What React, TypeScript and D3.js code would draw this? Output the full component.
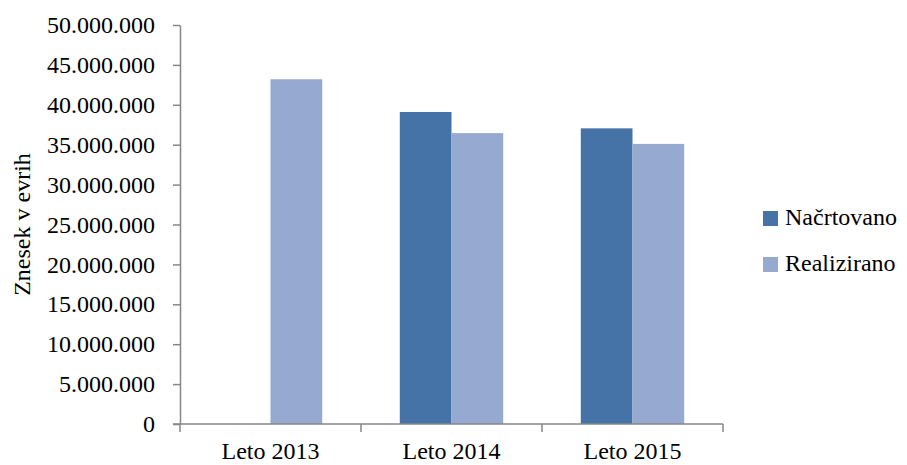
import React, { useEffect, useRef } from 'react';
import * as d3 from 'd3';

const CATEGORIES = ['Leto 2013', 'Leto 2014', 'Leto 2015'];
const SERIES = ['Načrtovano', 'Realizirano'];
const PLANNED = [null, 39100000, 37050000];
const REALISED = [43200000, 36450000, 35100000];
const Y_TICKS = [0, 5000000, 10000000, 15000000, 20000000, 25000000, 30000000, 35000000, 40000000, 45000000, 50000000];
const COLORS = ['#4573A7', '#95A9D1'];

const WIDTH = 907;
const HEIGHT = 465;
const MARGIN = { top: 25, left: 180, right: 184, bottom: 41 };
const FONT = '"Liberation Serif", "Times New Roman", serif';

const App = () => {
  const svgRef = useRef<SVGSVGElement | null>(null);

  useEffect(() => {
    const svg = d3.select(svgRef.current);
    svg.selectAll('*').remove();

    const innerW = WIDTH - MARGIN.left - MARGIN.right;
    const innerH = HEIGHT - MARGIN.top - MARGIN.bottom;

    const x = d3.scaleBand().domain(CATEGORIES).range([0, innerW]).paddingInner(0).paddingOuter(0);
    const xInner = d3.scaleBand().domain(SERIES).range([0, x.bandwidth()]).paddingOuter(0.75).paddingInner(0);
    const y = d3.scaleLinear().domain([0, 50000000]).range([innerH, 0]);

    const g = svg.append('g').attr('transform', `translate(${MARGIN.left},${MARGIN.top})`);

    // y axis
    const yAxis = g.append('g').call(
      d3.axisLeft(y).tickValues(Y_TICKS).tickSize(7).tickSizeOuter(0).tickPadding(18)
        .tickFormat((d) => d3.format(',')(d as number).replace(/,/g, '.'))
    );
    yAxis.select('.domain').attr('stroke', '#868686').attr('stroke-width', 1.5);
    yAxis.selectAll('.tick line').attr('stroke', '#868686').attr('stroke-width', 1.5);
    yAxis.selectAll('.tick text').attr('font-family', FONT).attr('font-size', 24).attr('fill', '#000');

    // bars
    const rows = CATEGORIES.map((c, i) => ({ c, values: [PLANNED[i], REALISED[i]] }));
    const groups = g.selectAll('.grp').data(rows).enter().append('g')
      .attr('transform', (d) => `translate(${x(d.c)},0)`);
    groups.selectAll('rect')
      .data((d) => d.values.map((v, k) => ({ v, k })).filter((e) => e.v !== null))
      .enter().append('rect')
      .attr('x', (d) => xInner(SERIES[d.k]) as number)
      .attr('width', xInner.bandwidth())
      .attr('y', (d) => y(d.v as number))
      .attr('height', (d) => innerH - y(d.v as number))
      .attr('fill', (d) => COLORS[d.k]);

    // x axis
    const boundaries = CATEGORIES.map((c) => x(c) as number).concat([innerW]);
    const xg = g.append('g').attr('transform', `translate(0,${innerH})`);
    xg.append('line').attr('x1', -7).attr('x2', innerW).attr('y1', 0).attr('y2', 0)
      .attr('stroke', '#868686').attr('stroke-width', 1.5);
    xg.selectAll('.xt').data(boundaries).enter().append('line')
      .attr('x1', (d) => d).attr('x2', (d) => d).attr('y1', 0).attr('y2', 8)
      .attr('stroke', '#868686').attr('stroke-width', 1.5);
    xg.selectAll('.xl').data(CATEGORIES).enter().append('text')
      .attr('x', (d) => (x(d) as number) + x.bandwidth() / 2)
      .attr('y', 35)
      .attr('text-anchor', 'middle')
      .attr('font-family', FONT).attr('font-size', 24)
      .text((d) => d);

    // y title
    svg.append('text')
      .attr('transform', `translate(30,${MARGIN.top + innerH / 2}) rotate(-90)`)
      .attr('text-anchor', 'middle')
      .attr('font-family', FONT).attr('font-size', 24)
      .text('Znesek v evrih');

    // legend
    const legend = svg.append('g').attr('transform', 'translate(763,211)');
    const items = legend.selectAll('.li').data(SERIES).enter().append('g')
      .attr('transform', (d, i) => `translate(0,${i * 46})`);
    items.append('rect').attr('width', 15).attr('height', 15).attr('fill', (d, i) => COLORS[i]);
    items.append('text').attr('x', 22).attr('y', 14)
      .attr('font-family', FONT).attr('font-size', 24)
      .text((d) => d);
  }, []);

  return (
    <div style={{ position: 'absolute', left: 0, top: 0 }}>
      <svg ref={svgRef} width={WIDTH} height={HEIGHT} style={{ display: 'block', background: '#fff' }} />
    </div>
  );
};

export default App;
